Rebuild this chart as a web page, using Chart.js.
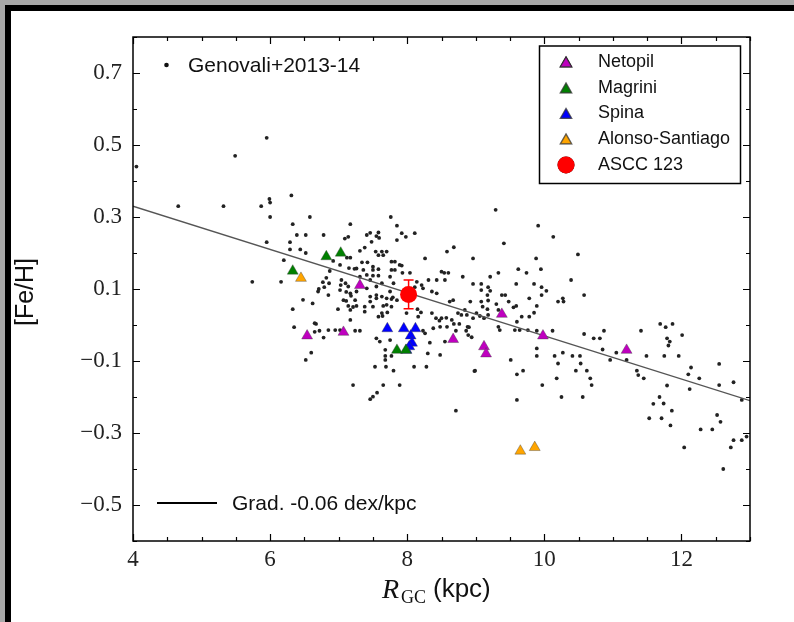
<!DOCTYPE html>
<html>
<head>
<meta charset="utf-8">
<script src="https://cdn.jsdelivr.net/npm/chart.js"></script>
<style>
  html, body { margin: 0; padding: 0; }
  body { width: 794px; height: 622px; background: #a9a9a9; position: relative; overflow: hidden; }
  .frame { position: absolute; left: 5px; top: 5px; right: 0; bottom: 0; background: #fff; border-top: 6px solid #000; border-left: 6px solid #000; }
  #chart { position: absolute; left: 0; top: 0; }
</style>
</head>
<body>
<div class="frame"></div>
<canvas id="chart" width="794" height="622"></canvas>
<script>
// Genovali+2013-14 cepheids: R_GC (kpc) and [Fe/H]
const genovaliR = [
  4.05, 5.49, 5.95, 4.66, 5.32, 5.87, 5.99, 6.0, 6.31, 6.0, 6.58, 7.76, 9.29, 6.33, 5.95, 5.74, 6.16, 6.2, 6.29, 6.29,
  6.44, 6.52, 6.52, 6.39, 6.78, 7.17, 7.09, 7.14, 6.87, 6.48, 6.62, 6.71, 6.79, 6.86, 6.85, 6.33, 6.35, 6.65, 6.78, 6.6,
  6.52, 6.99, 7.04, 7.1, 7.07, 7.14, 7.24, 7.26, 7.36, 7.31, 7.38, 7.41, 7.46, 7.55, 7.48, 7.54, 7.63, 7.7, 7.58, 7.65,
  7.34, 7.42, 7.41, 7.5, 7.58, 7.77, 7.82, 7.77, 7.82, 7.93, 8.04, 7.85, 7.92, 7.98, 8.11, 7.85, 8.26, 8.14, 8.23, 8.31,
  8.43, 8.55, 8.5, 8.58, 8.43, 8.36, 7.14, 7.17, 7.26, 7.41, 7.46, 7.55, 7.63, 7.7, 7.5, 7.65, 7.38, 7.38, 7.75, 7.8,
  7.63, 7.55, 7.46, 7.31, 7.26, 7.24, 7.31, 7.55, 7.6, 7.68, 7.75, 8.26, 8.23, 8.3, 8.48, 8.55, 7.68, 7.68, 7.53, 7.69,
  7.8, 8.1, 8.28, 7.21, 7.65, 7.89, 7.56, 7.5, 7.46, 7.63, 7.99, 8.16, 8.36, 8.42, 8.5, 8.58, 8.38, 7.02, 6.67, 6.72,
  7.17, 7.77, 8.71, 8.33, 8.47, 8.48, 8.57, 8.65, 8.68, 8.76, 8.71, 8.74, 8.86, 8.89, 8.94, 8.9, 8.98, 9.01, 8.15, 8.2,
  7.71, 7.64, 7.89, 8.68, 8.96, 9.41, 9.91, 10.13, 10.49, 9.88, 9.95, 9.62, 9.74, 9.33, 9.21, 8.81, 8.54, 8.6, 8.21, 8.11,
  7.79, 8.96, 9.08, 9.08, 9.18, 9.21, 9.59, 9.85, 9.96, 10.03, 10.39, 10.58, 10.27, 10.28, 10.2, 9.96, 9.78, 9.89, 9.85, 9.78,
  9.67, 9.6, 9.59, 9.55, 9.48, 9.43, 9.38, 9.3, 9.33, 9.17, 9.18, 9.08, 9.1, 9.17, 9.18, 8.92, 8.84, 8.87, 8.67, 8.62,
  8.79, 8.88, 8.96, 9.06, 9.12, 9.33, 9.35, 9.57, 9.64, 9.76, 9.89, 10.12, 9.89, 9.89, 10.15, 10.27, 10.2, 10.41, 10.52, 10.46,
  10.53, 10.62, 10.67, 10.58, 10.69, 10.18, 9.97, 10.25, 10.56, 9.69, 9.6, 9.51, 9.6, 8.99, 10.72, 10.81, 10.87, 10.96, 11.05, 11.2,
  11.35, 11.37, 11.45, 11.41, 11.49, 11.69, 11.77, 11.87, 11.79, 11.83, 11.81, 11.75, 11.96, 12.01, 12.14, 12.1, 12.26, 12.12, 12.55, 12.55,
  12.76, 12.88, 11.68, 11.74, 11.86, 11.53, 11.71, 11.84, 12.28, 12.45, 12.52, 12.57, 12.04, 12.72, 12.76, 12.88, 10.85, 11.79, 11.59, 12.61,
  12.95, 7.59, 7.58, 6.92, 7.02, 7.12, 7.17, 7.5, 7.15, 7.23, 7.92, 7.5, 7.58, 7.75, 6.82, 7.03, 6.77, 6.7, 7.11, 7.18,
  7.11, 7.21, 7.17, 7.55, 7.46, 7.7, 7.77, 7.58, 7.85, 7.77, 6.65, 6.85, 6.95, 7.02
];
const genovaliFe = [
  0.44, 0.47, 0.52, 0.33, 0.33, 0.33, 0.35, 0.34, 0.36, 0.3, 0.3, 0.3, 0.32, 0.28, 0.23, 0.12, 0.12, 0.18, 0.23, 0.21,
  0.21, 0.25, 0.2, 0.25, 0.25, 0.28, 0.24, 0.245, 0.15, 0.07, 0.06, 0.1, 0.105, 0.116, 0.083, 0.044, -0.006, -0.019, -0.035, -0.077,
  -0.097, 0.044, 0.125, 0.116, 0.069, 0.053, 0.069, 0.157, 0.153, 0.206, 0.215, 0.25, 0.256, 0.247, 0.231, 0.204, 0.204, 0.204, 0.194, 0.194,
  0.174, 0.174, 0.139, 0.153, 0.155, 0.176, 0.176, 0.153, 0.153, 0.145, 0.145, 0.276, 0.255, 0.245, 0.255, 0.236, 0.185, 0.12, 0.102, 0.125,
  0.125, 0.125, 0.148, 0.204, 0.088, 0.093, 0.107, 0.088, 0.093, 0.102, 0.079, 0.074, 0.079, 0.074, 0.051, 0.053, 0.051, 0.037, 0.093, 0.116,
  0.116, 0.107, 0.125, 0.134, 0.053, -0.016, -0.016, -0.037, -0.046, -0.069, -0.042, -0.023, -0.016, -0.079, -0.083, -0.046, -0.086, -0.097, -0.116, -0.116,
  -0.127, -0.116, -0.116, -0.167, -0.167, -0.167, -0.188, -0.199, -0.206, 0.033, 0.033, 0.023, 0.033, 0.019, 0.019, -0.005, -0.009, 0.097, 0.003, -0.016,
  0.014, -0.086, -0.238, -0.049, 0.012, -0.005, 0.02, 0.014, 0.003, 0.003, -0.016, 0.033, -0.016, -0.028, -0.034, -0.006, -0.128, 0.033, 0.044, 0.035,
  0.035, 0.025, 0.167, 0.216, 0.185, 0.227, 0.276, 0.245, 0.196, 0.185, 0.155, 0.155, 0.145, 0.145, 0.134, 0.134, 0.145, 0.145, 0.111, 0.105,
  0.077, 0.114, 0.114, 0.097, 0.105, 0.095, 0.114, 0.114, 0.105, 0.095, 0.125, 0.083, 0.074, 0.065, 0.065, 0.083, 0.074, 0.053, 0.034, 0.023,
  0.023, 0.009, 0.053, 0.049, 0.065, 0.083, 0.083, 0.058, 0.042, 0.083, 0.068, 0.065, 0.051, 0.044, 0.028, 0.065, 0.042, 0.028, 0.069, 0.065,
  0.028, -0.005, 0.019, 0.025, 0.019, -0.005, -0.014, -0.014, -0.014, -0.014, -0.016, -0.016, -0.065, -0.086, -0.086, -0.077, -0.107, -0.086, -0.086, -0.127,
  -0.107, -0.127, -0.148, -0.025, -0.167, -0.148, -0.167, -0.2, -0.2, -0.127, -0.137, -0.097, -0.208, -0.127, -0.037, -0.037, -0.016, -0.097, -0.077, -0.097,
  -0.127, -0.139, -0.148, -0.016, -0.086, 0.003, -0.006, 0.003, -0.037, -0.046, -0.057, -0.086, -0.086, -0.028, -0.118, -0.137, -0.148, -0.178, -0.108, -0.167,
  -0.159, -0.208, -0.2, -0.218, -0.238, -0.259, -0.259, -0.279, -0.29, -0.29, -0.25, -0.269, -0.34, -0.34, -0.32, -0.32, -0.068, -0.168, -0.219, -0.4,
  -0.31, 0.242, 0.257, 0.178, 0.167, 0.187, 0.187, 0.162, 0.158, 0.156, 0.165, 0.137, 0.137, 0.134, 0.131, 0.111, 0.119, 0.093, 0.092, 0.081,
  0.067, 0.05, 0.042, 0.083, 0.065, 0.056, 0.072, 0.023, 0.069, 0.051, 0.005, -0.014, -0.014, -0.014
];

// open clusters
const netopilR = [6.54, 7.07, 7.31, 8.67, 9.12, 9.15, 9.38, 9.98, 11.2];
const netopilFe = [-0.03, -0.02, 0.11, -0.04, -0.06, -0.08, 0.03, -0.03, -0.07];
const magriniR = [6.33, 6.82, 7.03, 7.85, 7.98];
const magriniFe = [0.15, 0.19, 0.2, -0.07, -0.07];
const spinaR = [7.71, 7.95, 8.12, 8.05, 8.07, 8.03, 7.99];
const spinaFe = [-0.01, -0.01, -0.01, -0.03, -0.05, -0.06, -0.07];
const alonsoR = [6.45, 9.65, 9.86];
const alonsoFe = [0.13, -0.35, -0.34];
const asccR = [8.02];
const asccFe = [0.085];
const asccErr = [0.04];

// gradient line end points
const gradR = [4, 13];
const gradFe = [0.33, -0.21];

// axes
const xTickLabels = [4, 6, 8, 10, 12];
const yTickLabels = [0.7, 0.5, 0.3, 0.1, -0.1, -0.3, -0.5];

const toPoints = (xs, ys) => xs.map((x, i) => ({ x: x, y: ys[i] }));
const isLabelled = (list, v) => list.some((t) => Math.abs(t - v) < 1e-6);
const fmtY = (v) => (v < 0 ? "\u2212" : "") + Math.abs(v).toFixed(1);

const SANS = "'Liberation Sans', Arial, sans-serif";
const SERIF = "'Liberation Serif', 'Times New Roman', serif";

const decorations = {
  id: "decorations",
  beforeDatasetDraw(chart, args) {
    if (args.index !== 0) return;
    const ctx = chart.ctx;
    const x = chart.scales.x;
    const y = chart.scales.y;
    ctx.save();
    ctx.strokeStyle = "#ff0000";
    ctx.lineWidth = 1.5;
    asccR.forEach((r, i) => {
      const px = x.getPixelForValue(r);
      const top = y.getPixelForValue(asccFe[i] + asccErr[i]);
      const bot = y.getPixelForValue(asccFe[i] - asccErr[i]);
      ctx.beginPath();
      ctx.moveTo(px, top);
      ctx.lineTo(px, bot);
      ctx.moveTo(px - 5, top);
      ctx.lineTo(px + 5, top);
      ctx.moveTo(px - 5, bot);
      ctx.lineTo(px + 5, bot);
      ctx.stroke();
    });
    ctx.restore();
  },
  afterDraw(chart) {
    const ctx = chart.ctx;
    const area = chart.chartArea;
    const x = chart.scales.x;
    const y = chart.scales.y;
    ctx.save();

    // inward ticks on all four sides
    ctx.strokeStyle = "#000";
    ctx.lineWidth = 1.2;
    ctx.beginPath();
    x.ticks.forEach((t) => {
      const px = Math.round(x.getPixelForValue(t.value)) + 0.5;
      const len = isLabelled(xTickLabels, t.value) ? 7 : 4;
      ctx.moveTo(px, area.bottom);
      ctx.lineTo(px, area.bottom - len);
      ctx.moveTo(px, area.top);
      ctx.lineTo(px, area.top + len);
    });
    y.ticks.forEach((t) => {
      const py = Math.round(y.getPixelForValue(t.value)) + 0.5;
      const len = isLabelled(yTickLabels, t.value) ? 7 : 4;
      ctx.moveTo(area.left, py);
      ctx.lineTo(area.left + len, py);
      ctx.moveTo(area.right, py);
      ctx.lineTo(area.right - len, py);
    });
    ctx.stroke();

    // axes box
    ctx.lineWidth = 1.5;
    ctx.strokeRect(area.left, area.top, area.right - area.left, area.bottom - area.top);

    // annotations
    ctx.fillStyle = "#111";
    ctx.textBaseline = "middle";
    ctx.textAlign = "left";
    ctx.font = "21px " + SANS;
    ctx.beginPath();
    ctx.arc(166.5, 65, 2.3, 0, Math.PI * 2);
    ctx.fill();
    ctx.fillText("Genovali+2013-14", 188, 66);

    ctx.lineWidth = 2;
    ctx.beginPath();
    ctx.moveTo(157, 503);
    ctx.lineTo(217, 503);
    ctx.stroke();
    ctx.fillText("Grad. -0.06 dex/kpc", 232, 504);

    // legend box
    ctx.lineWidth = 1.5;
    ctx.strokeRect(539.5, 46, 201, 137.5);
    const rows = [62, 88, 113.5, 139, 165];
    const items = [1, 2, 3, 4, 0].map((i) => chart.data.datasets[i]);
    ctx.font = "18px " + SANS;
    items.forEach((ds, k) => {
      Chart.helpers.drawPoint(ctx, {
        pointStyle: ds.pointStyle,
        radius: ds.pointStyle === "circle" ? 8.5 : 6.3,
        borderWidth: ds.borderWidth,
        rotation: 0
      }, 566, rows[k] + (ds.pointStyle === "circle" ? 0 : 1.5));
      ctx.fillStyle = ds.backgroundColor;
      ctx.strokeStyle = ds.borderColor;
      ctx.fill();
      if (ds.borderWidth) ctx.stroke();
      ctx.fillStyle = "#111";
      ctx.fillText(ds.label, 598, rows[k]);
    });

    // axis titles
    ctx.save();
    ctx.translate(26, 292);
    ctx.rotate(-Math.PI / 2);
    ctx.textAlign = "center";
    ctx.font = "25px " + SANS;
    ctx.fillText("[Fe/H]", 0, 0);
    ctx.restore();

    ctx.textBaseline = "alphabetic";
    ctx.font = "italic 28px " + SERIF;
    ctx.fillText("R", 382, 598);
    ctx.font = "18px " + SERIF;
    ctx.fillText("GC", 401, 603);
    ctx.font = "26px " + SANS;
    ctx.fillText("(kpc)", 433, 597);

    ctx.restore();
  }
};

document.addEventListener("DOMContentLoaded", function () {
  new Chart(document.getElementById("chart"), {
    type: "scatter",
    data: {
      datasets: [
        {
          label: "ASCC 123",
          data: toPoints(asccR, asccFe),
          pointStyle: "circle",
          pointRadius: 8.5,
          backgroundColor: "#ff0000",
          borderColor: "#ff0000",
          borderWidth: 0
        },
        {
          label: "Netopil",
          data: toPoints(netopilR, netopilFe),
          pointStyle: "triangle",
          pointRadius: 6.3,
          backgroundColor: "#bf00bf",
          borderColor: "rgba(60,60,60,0.55)",
          borderWidth: 0.7
        },
        {
          label: "Magrini",
          data: toPoints(magriniR, magriniFe),
          pointStyle: "triangle",
          pointRadius: 6.3,
          backgroundColor: "#008000",
          borderColor: "rgba(60,60,60,0.55)",
          borderWidth: 0.7
        },
        {
          label: "Spina",
          data: toPoints(spinaR, spinaFe),
          pointStyle: "triangle",
          pointRadius: 6.3,
          backgroundColor: "#0000ff",
          borderColor: "rgba(60,60,60,0.55)",
          borderWidth: 0.7
        },
        {
          label: "Alonso-Santiago",
          data: toPoints(alonsoR, alonsoFe),
          pointStyle: "triangle",
          pointRadius: 6.3,
          backgroundColor: "#ffa500",
          borderColor: "rgba(60,60,60,0.55)",
          borderWidth: 0.7
        },
        {
          label: "Grad. -0.06 dex/kpc",
          data: toPoints(gradR, gradFe),
          showLine: true,
          borderColor: "#555",
          borderWidth: 1.3,
          pointRadius: 0
        },
        {
          label: "Genovali+2013-14",
          data: toPoints(genovaliR, genovaliFe),
          pointStyle: "circle",
          pointRadius: 1.9,
          backgroundColor: "#222",
          borderWidth: 0
        }
      ]
    },
    options: {
      responsive: false,
      animation: false,
      events: [],
      layout: { padding: { left: 0, top: 37, right: 44, bottom: 0 } },
      plugins: {
        legend: { display: false },
        tooltip: { enabled: false }
      },
      scales: {
        x: {
          type: "linear",
          min: 4,
          max: 13,
          grid: { display: false, drawTicks: false },
          border: { display: false },
          afterFit: (scale) => { scale.height = 81; },
          ticks: {
            stepSize: 0.5,
            autoSkip: false,
            maxRotation: 0,
            padding: 5,
            color: "#222",
            font: { family: SERIF, size: 23 },
            callback: (v) => (isLabelled(xTickLabels, v) ? String(v) : "")
          }
        },
        y: {
          type: "linear",
          min: -0.6,
          max: 0.8,
          grid: { display: false, drawTicks: false },
          border: { display: false },
          afterFit: (scale) => { scale.width = 133; },
          ticks: {
            stepSize: 0.1,
            autoSkip: false,
            padding: 11,
            color: "#222",
            font: { family: SERIF, size: 23 },
            callback: (v) => (isLabelled(yTickLabels, v) ? fmtY(v) : "")
          }
        }
      }
    },
    plugins: [decorations]
  });
});
</script>
</body>
</html>
